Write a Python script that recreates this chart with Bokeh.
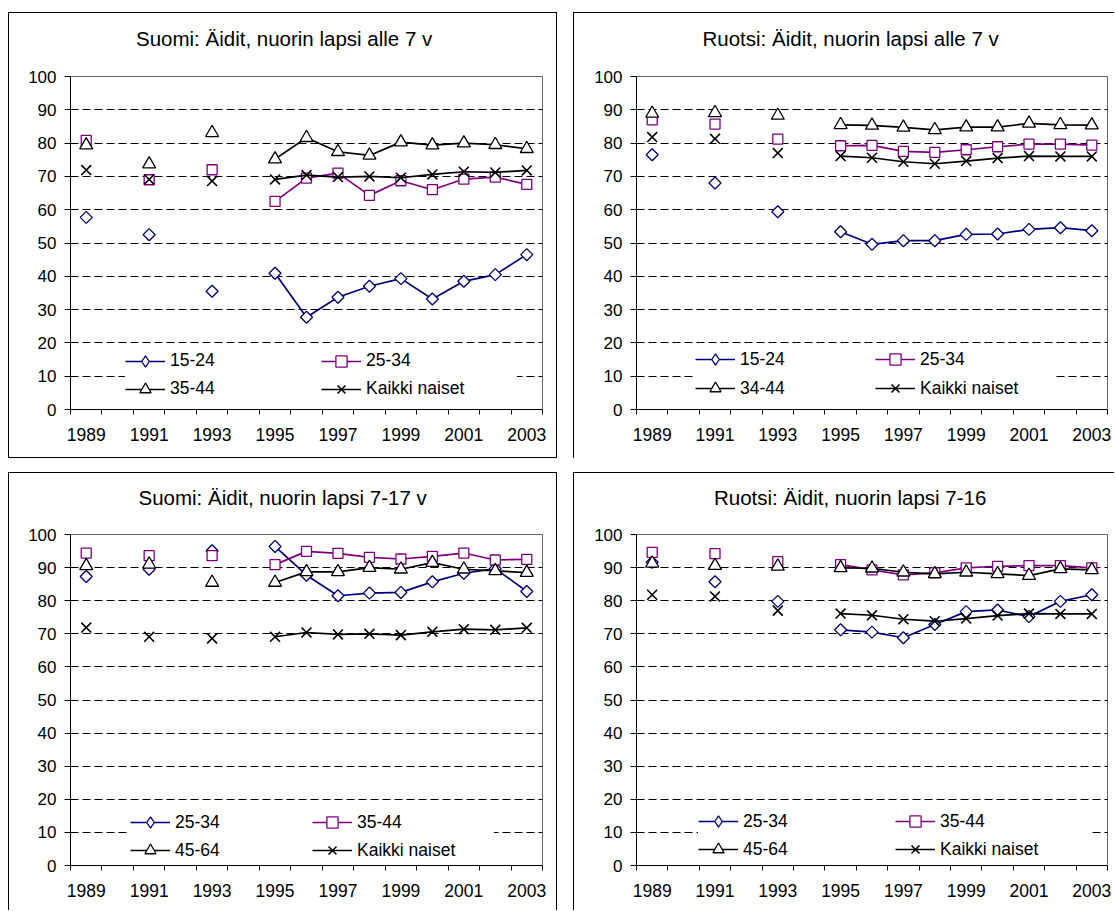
import math
import numpy as np
from bokeh.plotting import figure
from bokeh.models import (FixedTicker, Legend, LegendItem, Spacer, Title,
                          Range1d, ColumnDataSource)
from bokeh.layouts import row, column
from bokeh.embed import file_html
from bokeh.resources import INLINE

# ---------------- data ----------------
years = list(range(1989, 2004))
tick_years = [1989, 1991, 1993, 1995, 1997, 1999, 2001, 2003]
tick_labels = ["1989", "1991", "1993", "1995", "1997", "1999", "2001", "2003"]
y_ticks = [0, 10, 20, 30, 40, 50, 60, 70, 80, 90, 100]

titles = ["Suomi: Äidit, nuorin lapsi alle 7 v",
          "Ruotsi: Äidit, nuorin lapsi alle 7 v",
          "Suomi: Äidit, nuorin lapsi 7-17 v",
          "Ruotsi: Äidit, nuorin lapsi 7-16"]

labels_fi_u7 = ["15-24", "25-34", "35-44", "Kaikki naiset"]
labels_se_u7 = ["15-24", "25-34", "34-44", "Kaikki naiset"]
labels_fi_7_17 = ["25-34", "35-44", "45-64", "Kaikki naiset"]
labels_se_7_16 = ["25-34", "35-44", "45-64", "Kaikki naiset"]

# Finland, youngest child under 7
fi_u7_15_24 = [57.7, None, 52.5, None, 35.5, None, 40.9, 27.7, 33.7, 37.0, 39.3, 33.2, 38.5, 40.5, 46.5]
fi_u7_25_34 = [80.8, None, 69.0, None, 72.0, None, 62.5, 69.5, 71.0, 64.3, 68.7, 66.0, 69.2, 69.8, 67.6]
fi_u7_35_44 = [79.4, None, 73.7, None, 83.1, None, 75.2, 81.6, 77.4, 76.3, 80.3, 79.4, 80.0, 79.5, 78.3]
fi_all = [71.9, None, 69.1, None, 68.6, None, 69.1, 70.4, 69.8, 70.0, 69.6, 70.6, 71.4, 71.2, 71.8]

# Sweden, youngest child under 7
se_u7_15_24 = [76.5, None, 68.0, None, 59.4, None, 53.4, 49.6, 50.7, 50.7, 52.6, 52.7, 54.1, 54.6, 53.7]
se_u7_25_34 = [87.0, None, 85.7, None, 81.2, None, 79.2, 79.3, 77.5, 77.2, 78.0, 78.9, 79.7, 79.7, 79.4]
se_u7_34_44 = [88.9, None, 89.1, None, 88.3, None, 85.5, 85.3, 84.7, 84.0, 84.8, 84.8, 85.9, 85.5, 85.4]
se_all = [81.8, None, 81.3, None, 77.0, None, 76.1, 75.6, 74.4, 73.8, 74.6, 75.5, 76.1, 76.0, 76.0]

# Finland, youngest child 7-17
fi_7_17_25_34 = [87.3, None, 89.5, None, 95.1, None, 96.4, 87.7, 81.5, 82.3, 82.5, 85.7, 88.3, 89.7, 82.8]
fi_7_17_35_44 = [94.4, None, 93.6, None, 93.6, None, 90.9, 94.9, 94.3, 93.1, 92.6, 93.4, 94.4, 92.3, 92.5]
fi_7_17_45_64 = [90.5, None, 91.0, None, 85.5, None, 85.5, 88.7, 88.7, 90.0, 89.5, 91.5, 89.5, 89.0, 88.5]

# Sweden, youngest child 7-16
se_7_16_25_34 = [91.6, None, 85.7, None, 79.8, None, 71.2, 70.5, 68.8, 72.8, 76.7, 77.2, 75.2, 79.8, 81.8]
se_7_16_35_44 = [94.6, None, 94.2, None, 91.8, None, 90.9, 89.3, 87.8, 88.4, 89.9, 90.4, 90.6, 90.6, 89.9]
se_7_16_45_64 = [91.3, None, 90.6, None, 90.4, None, 89.9, 89.8, 88.6, 88.1, 88.6, 88.1, 87.6, 89.6, 89.3]

FONT = "Liberation Sans"
NAVY = "#000080"
PURPLE = "#800080"
BLACK = "#000000"

styles = [
    dict(color=NAVY, marker="square", angle=math.pi / 4, size=8.5, lw=1.3, legend_marker="diamond"),
    dict(color=PURPLE, marker="square", angle=0.0, size=10, lw=1.3, legend_marker=None),
    dict(color=BLACK, marker="triangle", angle=0.0, size=13, lw=1.3, legend_marker=None),
    dict(color=BLACK, marker="x", angle=0.0, size=14, lw=1.6, legend_marker=None),
]


def arr(v):
    return np.array([np.nan if a is None else a for a in v], dtype=float)


def box_css(lines):
    # panel frame lines painted as CSS background behind a transparent canvas border
    return {
        "background-image": ", ".join(["linear-gradient(#000000, #000000)"] * len(lines)),
        "background-size": ", ".join("%dpx %dpx" % (w, h) for (x, y, w, h) in lines),
        "background-position": ", ".join("%dpx %dpx" % (x, y) for (x, y, w, h) in lines),
        "background-repeat": "no-repeat",
    }


def make_panel(title, labels, series, geom):
    p = figure(width=geom["w"], height=geom["h"], output_backend="svg",
               toolbar_location=None, tools="",
               x_range=Range1d(1988.5, 2003.5), y_range=Range1d(0, 100),
               min_border_left=geom["ml"], min_border_right=geom["mr"],
               min_border_top=geom["mt"], min_border_bottom=geom["mb"])
    p.background_fill_color = "white"
    p.border_fill_color = "white"
    p.border_fill_alpha = 0.0
    p.outline_line_color = "#666666"
    p.outline_line_width = 1
    p.xgrid.visible = False
    p.ygrid.ticker = FixedTicker(ticks=y_ticks[1:-1])
    p.ygrid.grid_line_color = "black"
    p.ygrid.grid_line_dash = "8 4"
    p.ygrid.grid_line_width = 1

    ya = p.yaxis[0]
    ya.ticker = FixedTicker(ticks=y_ticks, minor_ticks=[])
    ya.major_tick_out = 6
    ya.major_tick_in = 0
    ya.minor_tick_out = 0
    ya.minor_tick_in = 0
    ya.major_label_standoff = 8
    ya.axis_line_color = "black"
    ya.major_tick_line_color = "black"
    ya.major_label_text_font = FONT
    ya.major_label_text_font_size = "17px"
    ya.major_label_text_color = "black"

    xa = p.xaxis[0]
    xa.ticker = FixedTicker(ticks=tick_years,
                            minor_ticks=[y - 0.5 for y in years] + [years[-1] + 0.5])
    xa.major_label_overrides = {y: l for y, l in zip(tick_years, tick_labels)}
    xa.major_tick_out = 0
    xa.major_tick_in = 0
    xa.minor_tick_out = 5
    xa.minor_tick_in = 0
    xa.minor_tick_line_color = "black"
    xa.major_label_standoff = 13
    xa.axis_line_color = "black"
    xa.major_label_text_font = FONT
    xa.major_label_text_font_size = "17.5px"
    xa.major_label_text_color = "black"

    data = {"year": years}
    for i, s in enumerate(series):
        data["s%d" % i] = arr(s)
    src = ColumnDataSource(data)

    items = []
    for i, (lab, st) in enumerate(zip(labels, styles)):
        ln = p.line(x="year", y="s%d" % i, source=src, line_color=st["color"], line_width=1.7)
        fill = None if st["marker"] == "x" else "white"
        sc = p.scatter(x="year", y="s%d" % i, source=src, marker=st["marker"],
                       angle=st["angle"], size=st["size"], line_color=st["color"],
                       line_width=st["lw"], fill_color=fill)
        if st["legend_marker"]:
            dummy = ColumnDataSource({"x": [years[0]], "y": [np.nan]})
            lg = p.scatter(x="x", y="y", source=dummy, marker=st["legend_marker"],
                           line_color=st["color"], line_width=st["lw"], fill_color="white")
            items.append(LegendItem(label=lab, renderers=[ln, lg]))
        else:
            items.append(LegendItem(label=lab, renderers=[ln, sc]))

    leg = Legend(items=items, location=(geom["lx"], geom["ly"]),
                 orientation="horizontal", ncols=2,
                 glyph_width=40, glyph_height=28, label_height=20,
                 label_width=geom["lw"], label_standoff=5, spacing=geom["ls"],
                 padding=5, margin=0,
                 background_fill_color="white", background_fill_alpha=1.0,
                 border_line_color=None,
                 label_text_font=FONT, label_text_font_size="17.5px",
                 label_text_color="black")
    p.add_layout(leg)

    p.add_layout(Title(text=title, align="left", offset=geom["toff"], standoff=geom["ts"],
                       vertical_align="top",
                       text_font=FONT, text_font_size="20.5px", text_font_style="normal",
                       text_color="black"), "above")

    p.styles = box_css(geom["lines"])
    return p


g1 = dict(w=549, h=458, ml=62, mr=15, mt=76, mb=49, toff=65.5, ts=49,
          lx=55, ly=6.5, lw=151, ls=-4,
          lines=[(0, 12, 1, 446), (0, 12, 549, 1), (548, 12, 1, 446), (0, 457, 549, 1)])
g2 = dict(w=541, h=458, ml=63, mr=7, mt=76, mb=49, toff=66, ts=49,
          lx=59, ly=6.8, lw=134, ls=1,
          lines=[(0, 12, 1, 446), (0, 12, 541, 1), (0, 459, 541, 1)])
g3 = dict(w=549, h=450, ml=62, mr=15, mt=74, mb=45, toff=68, ts=47,
          lx=60, ly=0.8, lw=137, ls=0,
          lines=[(0, 12, 1, 438), (0, 12, 549, 1), (548, 12, 1, 438)])
g4 = dict(w=541, h=450, ml=63, mr=7, mt=74, mb=45, toff=77.5, ts=47,
          lx=62, ly=1.8, lw=152, ls=-2,
          lines=[(0, 12, 1, 438), (0, 12, 541, 1)])

p1 = make_panel(titles[0], labels_fi_u7, [fi_u7_15_24, fi_u7_25_34, fi_u7_35_44, fi_all], g1)
p2 = make_panel(titles[1], labels_se_u7, [se_u7_15_24, se_u7_25_34, se_u7_34_44, se_all], g2)
p3 = make_panel(titles[2], labels_fi_7_17, [fi_7_17_25_34, fi_7_17_35_44, fi_7_17_45_64, fi_all], g3)
p4 = make_panel(titles[3], labels_se_7_16, [se_7_16_25_34, se_7_16_35_44, se_7_16_45_64, se_all], g4)

top = row(p1, p2, spacing=16)
bottom = row(p3, p4, spacing=16)
grid = column(top, bottom, spacing=2)
page = row(Spacer(width=8, height=10), grid, spacing=0)

open("out.html", "w").write(file_html(page, INLINE))
